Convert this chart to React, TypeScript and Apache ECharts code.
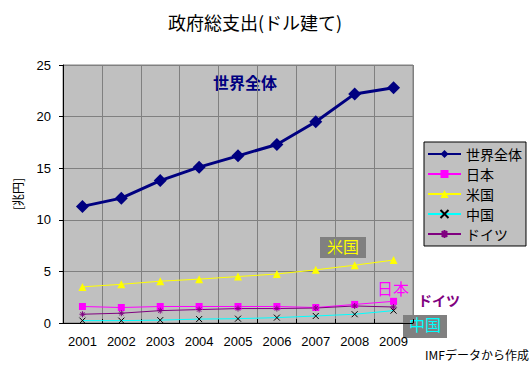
import React, { useEffect, useRef } from "react";
import * as echarts from "echarts";

const years = ["2001", "2002", "2003", "2004", "2005", "2006", "2007", "2008", "2009"];
const world = [11.3, 12.1, 13.8, 15.1, 16.2, 17.3, 19.5, 22.2, 22.8];
const japan = [1.6, 1.5, 1.6, 1.6, 1.6, 1.6, 1.5, 1.8, 2.1];
const usa = [3.5, 3.75, 4.05, 4.25, 4.5, 4.75, 5.15, 5.6, 6.1];
const china = [0.23, 0.23, 0.28, 0.38, 0.42, 0.52, 0.68, 0.85, 1.2];
const germany = [0.85, 0.95, 1.2, 1.3, 1.4, 1.4, 1.45, 1.65, 1.55];
const yTicks = { min: 0, max: 25, interval: 5 };

const JP = '"Noto Sans CJK JP", sans-serif';
const LAT = '"Liberation Sans", Arial, sans-serif';

export default function App() {
  const ref = useRef<HTMLDivElement>(null);
  useEffect(() => {
    if (!ref.current) return;
    const chart = echarts.init(ref.current, null, { renderer: "svg" });
    const xMark = "path://M0,0L10,10M10,0L0,10";
    const starMark = "path://M5,0L5,10M0,5L10,5M1.5,1.5L8.5,8.5M8.5,1.5L1.5,8.5";
    chart.setOption({
      animation: false,
      backgroundColor: "#ffffff",
      title: {
        text: "政府総支出(ドル建て)",
        left: 163,
        top: 8,
        textStyle: { fontFamily: JP, fontSize: 18, fontWeight: "normal", color: "#000" },
      },
      grid: {
        left: 63,
        top: 65,
        right: 119,
        bottom: 44,
        show: true,
        backgroundColor: "#C0C0C0",
        borderColor: "#808080",
        borderWidth: 1,
      },
      legend: {
        orient: "vertical",
        left: 424,
        top: 142,
        backgroundColor: "#C0C0C0",
        borderColor: "#000",
        borderWidth: 1,
        padding: [5, 4, 5, 3],
        itemGap: 6,
        itemWidth: 33,
        itemHeight: 10,
        textStyle: { fontFamily: JP, fontSize: 14, color: "#000" },
        data: ["世界全体", "日本", "米国", "中国", "ドイツ"],
      },
      xAxis: {
        type: "category",
        data: years,
        boundaryGap: true,
        axisLine: { lineStyle: { color: "#000", width: 1 } },
        axisTick: { show: true, inside: true, length: 4, lineStyle: { color: "#000" } },
        axisLabel: { fontFamily: LAT, fontSize: 13, color: "#000", margin: 12 },
        splitLine: { show: true, lineStyle: { color: "#808080", width: 1 } },
      },
      yAxis: {
        type: "value",
        min: yTicks.min,
        max: yTicks.max,
        interval: yTicks.interval,
        name: "[兆円]",
        nameLocation: "middle",
        nameGap: 40,
        nameRotate: 90,
        nameTextStyle: { fontFamily: JP, fontSize: 12, color: "#000" },
        axisLine: { show: true, lineStyle: { color: "#000", width: 1 } },
        axisTick: { show: true, length: 4, lineStyle: { color: "#000" } },
        axisLabel: { fontFamily: LAT, fontSize: 13, color: "#000", margin: 12 },
        splitLine: { show: true, lineStyle: { color: "#808080", width: 1 } },
      },
      series: [
        {
          name: "世界全体",
          type: "line",
          data: world,
          symbol: "diamond",
          symbolSize: 13,
          lineStyle: { color: "#000080", width: 3 },
          itemStyle: { color: "#000080" },
        },
        {
          name: "日本",
          type: "line",
          data: japan,
          symbol: "rect",
          symbolSize: 7,
          lineStyle: { color: "#FF00FF", width: 1 },
          itemStyle: { color: "#FF00FF" },
        },
        {
          name: "米国",
          type: "line",
          data: usa,
          symbol: "triangle",
          symbolSize: 8,
          lineStyle: { color: "#FFFF00", width: 1 },
          itemStyle: { color: "#FFFF00" },
        },
        {
          name: "中国",
          type: "line",
          data: china,
          symbol: xMark,
          symbolSize: 6,
          lineStyle: { color: "#00FFFF", width: 1 },
          itemStyle: { color: "#00FFFF", borderColor: "#000", borderWidth: 1 },
        },
        {
          name: "ドイツ",
          type: "line",
          data: germany,
          symbol: starMark,
          symbolSize: 6,
          lineStyle: { color: "#800080", width: 1 },
          itemStyle: { color: "#800080", borderColor: "#800080", borderWidth: 1 },
        },
      ],
      graphic: [
        {
          type: "text",
          left: 213,
          top: 74,
          style: { text: "世界全体", fill: "#000080", font: `bold 16px ${JP}` },
        },
        {
          type: "rect",
          shape: { x: 320, y: 237, width: 46, height: 21 },
          style: { fill: "#808080" },
        },
        {
          type: "text",
          left: 327,
          top: 238,
          style: { text: "米国", fill: "#FFFF00", font: `16px ${JP}` },
        },
        {
          type: "text",
          left: 377,
          top: 280,
          style: { text: "日本", fill: "#FF00FF", font: `16px ${JP}` },
        },
        {
          type: "text",
          left: 418,
          top: 293,
          style: { text: "ドイツ", fill: "#800080", font: `bold 14px ${JP}` },
        },
        {
          type: "rect",
          shape: { x: 403, y: 315, width: 44, height: 23 },
          style: { fill: "#808080" },
        },
        {
          type: "text",
          left: 409,
          top: 316,
          style: { text: "中国", fill: "#00FFFF", font: `16px ${JP}` },
        },
        {
          type: "text",
          left: 425,
          top: 348,
          style: { text: "IMFデータから作成", fill: "#000", font: `12px ${JP}` },
        },
      ],
    });
    return () => chart.dispose();
  }, []);
  return <div ref={ref} style={{ width: 532, height: 367, position: "absolute", left: 0, top: 0 }} />;
}
